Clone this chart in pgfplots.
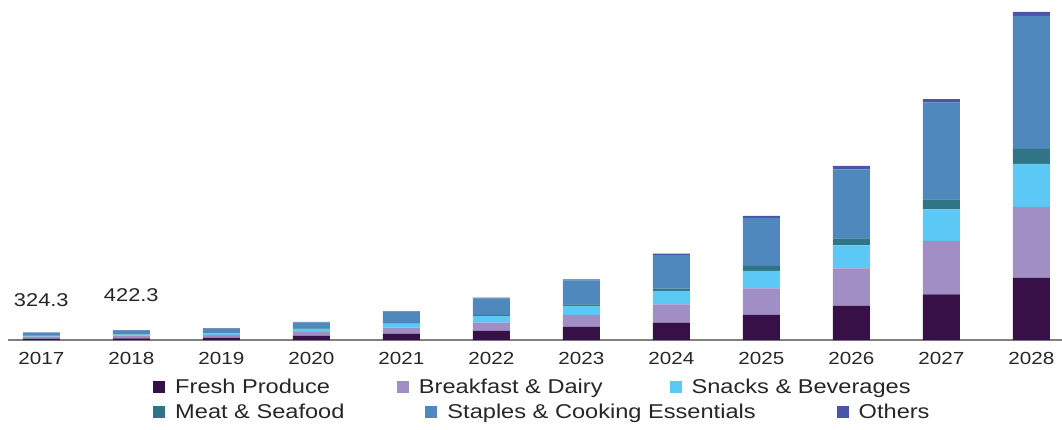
\documentclass[border=0pt]{standalone}
\usepackage{pgfplots}
\usepackage{pgfplotstable}
\pgfplotsset{compat=1.18}
\usepackage{fontspec}
\setmainfont{Liberation Sans}[FakeStretch=1.18]

\definecolor{cfresh}{RGB}{56,16,72}
\definecolor{cbreak}{RGB}{160,142,196}
\definecolor{csnack}{RGB}{91,200,245}
\definecolor{cmeat}{RGB}{47,117,133}
\definecolor{cstaple}{RGB}{78,136,188}
\definecolor{cother}{RGB}{75,85,168}

% values (same unit as the 324.3 / 422.3 labels)
\pgfplotstableread{
idx fresh breakfast snacks meat staples others
0   60    90        30     8    125     11.3
1   75    110       45     10   168     14.3
2   90    130       60     13   200     17
3   172   172       129    22   260     20
4   271   258       172    30   473     26
5   387   357       288    43   718     34
6   559   516       387    73   1032    43
7   744   791       572    99   1440    65
8   1075  1148      744    215  2064    86
9   1462  1621      989    301  2967    142
10  1965  2292      1363   430  4158    146
11  2666  3053      1849   645  5719    172
}\sales

\pgfplotsset{
  frame/.style={
    at={(8bp,90bp)}, anchor=south west,
    width=1054bp, height=340bp, scale only axis,
  },
  sq/.style={
    legend image code/.code={\fill[##1,draw=none] (0bp,-6bp) rectangle (12bp,6bp);},
  },
  sqlegend/.style={
    legend style={draw=none, fill=none, inner sep=0pt, anchor=west,
      font=\fontsize{20bp}{22bp}\selectfont, text=black!85,
      /tikz/every odd column/.append style={column sep=8bp},
      /tikz/every even column/.append style={column sep=#1}},
    legend columns=3, legend cell align=left,
  },
}

\begin{document}
\begin{tikzpicture}
\useasboundingbox (0,0) rectangle (1062bp,430bp);
\begin{axis}[
  frame, sqlegend=65bp,
  xmin=-0.37, xmax=11.34, ymin=0, ymax=14620,
  ybar stacked, bar width=37bp,
  axis y line=none, axis x line*=bottom,
  x axis line style={-, draw=black!50, line width=1.6bp},
  xtick={0,...,11},
  xticklabels={2017,2018,2019,2020,2021,2022,2023,2024,2025,2026,2027,2028},
  major tick length=0pt,
  xticklabel style={font=\fontsize{17.5bp}{20bp}\selectfont, text=black!85, yshift=-9bp},
  legend style={at={(0.1376,-0.138)}},
  clip=false,
]
\addplot[sq, fill=cfresh, draw=none] table[x=idx, y=fresh] {\sales};
\addplot[sq, fill=cbreak, draw=none] table[x=idx, y=breakfast] {\sales};
\addplot[sq, fill=csnack, draw=none] table[x=idx, y=snacks] {\sales};
\addplot[sq, fill=cmeat, draw=none] table[x=idx, y=meat] {\sales};
\addplot[sq, fill=cstaple, draw=none] table[x=idx, y=staples] {\sales};
\addplot[sq, fill=cother, draw=none] table[x=idx, y=others] {\sales};
\legend{Fresh Produce, Breakfast \& Dairy, Snacks \& Beverages}
\node[font=\fontsize{18.5bp}{20bp}\selectfont, text=black!85] at (axis cs:0,1720) {324.3};
\node[font=\fontsize{18.5bp}{20bp}\selectfont, text=black!85] at (axis cs:1,1935) {422.3};
\end{axis}
% second legend row
\begin{axis}[
  frame, sqlegend=79bp, hide axis,
  xmin=0, xmax=1, ymin=0, ymax=1,
  legend style={at={(0.1376,-0.212)}},
]
\addlegendimage{sq, fill=cmeat}
\addlegendentry{Meat \& Seafood}
\addlegendimage{sq, fill=cstaple}
\addlegendentry{Staples \& Cooking Essentials}
\addlegendimage{sq, fill=cother}
\addlegendentry{Others}
\end{axis}
\end{tikzpicture}
\end{document}
